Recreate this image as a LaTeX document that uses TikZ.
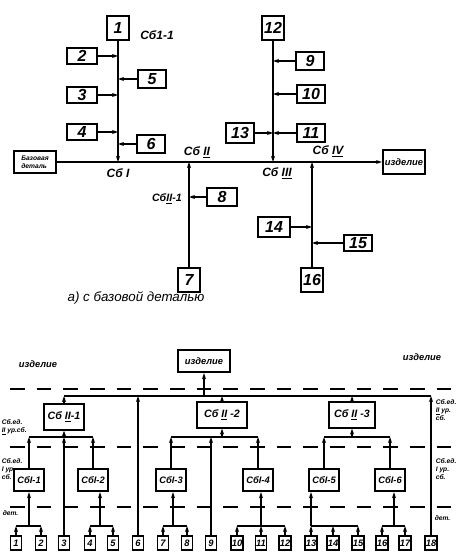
\documentclass[tikz,border=0pt]{standalone}
\usepackage{fontspec}
\setmainfont{Liberation Sans}
\usetikzlibrary{arrows.meta}

\tikzset{
  part/.style={draw, line width=1.3pt, minimum width=21pt, minimum height=13pt, inner sep=1pt, font=\large\bfseries\itshape},
  tallpart/.style={part, minimum width=16pt, minimum height=18pt},
  leaf/.style={draw, line width=1.1pt, minimum width=8.5pt, minimum height=10.5pt, inner sep=0.5pt, font=\scriptsize\bfseries\itshape},
  unit/.style={draw, line width=1.3pt, minimum width=22pt, minimum height=17pt, inner xsep=2.5pt, font=\scriptsize\bfseries\itshape},
  sbtag/.style={font=\small\bfseries\itshape},
  levtag/.style={font=\tiny\bfseries\itshape, align=left, anchor=west, inner sep=0pt},
  level/.style={line width=1.3pt, dash pattern=on 11pt off 9pt},
}

\begin{document}
\begin{tikzpicture}[x=0.75pt, y=-0.75pt, line width=1.2pt, >={Stealth[length=4.5pt,width=3pt]}]
  \useasboundingbox (0,0) rectangle (456,552);

  % a) with a base part

  % Assembly points on the main line
  \coordinate (s1) at (118,162);
  \coordinate (s2) at (189,162);
  \coordinate (s3) at (273,162);
  \coordinate (s4) at (312,162);

  % Main line
  \node[part, minimum width=32pt, minimum height=16pt, font=\tiny\bfseries\itshape, align=left] (base) at (35,162) {Базовая\\деталь};
  \node[part, minimum width=32pt, minimum height=18pt, font=\scriptsize\bfseries\itshape] (izd) at (404,162) {изделие};
  \draw[->] (base) -- (izd);

  % Sb I-1
  \node[tallpart] (t1) at (118,28) {1};
  \node[part, minimum width=23pt, minimum height=12pt] (t2) at (82,56) {2};
  \node[part, minimum width=23pt, minimum height=12pt] (t3) at (82,95) {3};
  \node[part, minimum width=23pt, minimum height=12pt] (t4) at (82,132) {4};
  \node[part] (t5) at (152,79) {5};
  \node[part] (t6) at (151,144) {6};
  \draw[->] (t1) -- (s1);
  \draw[->] (t2) -- (t2 -| s1);
  \draw[->] (t3) -- (t3 -| s1);
  \draw[->] (t4) -- (t4 -| s1);
  \draw[->] (t5) -- (t5 -| s1);
  \draw[->] (t6) -- (t6 -| s1);
  \node[sbtag] (l11) at (157,35) {Сб1-1};
  \node[sbtag] (l1) at (118,173) {Сб I};

  % Sb II-1
  \node[tallpart] (t7) at (189,280) {7};
  \node[part, minimum width=22pt, minimum height=14pt] (t8) at (222,197) {8};
  \draw[->] (t7) -- (s2);
  \draw[->] (t8) -- (t8 -| s2);
  \node[sbtag] (l2) at (197,152) {Сб \underline{II}};
  \node[sbtag, font=\footnotesize\bfseries\itshape, anchor=east] (l21) at (187,199) {Сб\underline{II}-1};

  % Sb III
  \node[tallpart] (t12) at (273,28) {12};
  \node[part] (t9) at (310,61) {9};
  \node[part] (t10) at (311,94) {10};
  \node[part, minimum height=14pt] (t11) at (311,133) {11};
  \node[part, minimum height=15pt] (t13) at (240,133) {13};
  \draw[->] (t12) -- (s3);
  \draw[->] (t9) -- (t9 -| s3);
  \draw[->] (t10) -- (t10 -| s3);
  \draw[->] (t11) -- (t11 -| s3);
  \draw[->] (t13) -- (t13 -| s3);
  \node[sbtag] (l3) at (277,173) {Сб \underline{III}};

  % Sb IV
  \node[tallpart] (t16) at (312,280) {16};
  \node[part, minimum width=24pt, minimum height=15pt] (t14) at (274,227) {14};
  \node[part, minimum height=12pt] (t15) at (358,243) {15};
  \draw[->] (t16) -- (s4);
  \draw[->] (t14) -- (t14 -| s4);
  \draw[->] (t15) -- (t15 -| s4);
  \node[sbtag] (l4) at (328,151) {Сб \underline{IV}};

  \node[font=\normalsize\itshape] (capa) at (136,298) {а) с базовой деталью};

  % b) levels of assembly

  % Level borders
  \draw[level] (10,389) -- (456,389);
  \draw[level] (10,447) -- (456,447);
  \draw[level] (10,507) -- (456,507);

  % Product
  \node[unit, minimum width=39pt] (izd2) at (204,361) {изделие};
  \coordinate (top) at (204,396);

  % Units of level II
  \node[unit, minimum width=29pt, minimum height=19pt, font=\footnotesize\bfseries\itshape] (w1) at (64,417) {Сб \underline{II}-1};
  \node[unit, minimum width=37pt, minimum height=19pt, font=\footnotesize\bfseries\itshape] (w2) at (222,415) {Сб \underline{II} -2};
  \node[unit, minimum width=35pt, minimum height=19pt, font=\footnotesize\bfseries\itshape] (w3) at (352,415) {Сб \underline{II} -3};

  % Units of level I
  \node[unit] (u1) at (29,480) {СбI-1};
  \node[unit] (u2) at (93,480) {СбI-2};
  \node[unit] (u3) at (171,480) {СбI-3};
  \node[unit] (u4) at (258,480) {СбI-4};
  \node[unit] (u5) at (324,480) {СбI-5};
  \node[unit] (u6) at (390,480) {СбI-6};

  % Parts
  \node[leaf] (p1) at (16,543) {1};
  \node[leaf] (p2) at (41,543) {2};
  \node[leaf] (p3) at (64,543) {3};
  \node[leaf] (p4) at (90,543) {4};
  \node[leaf] (p5) at (113,543) {5};
  \node[leaf] (p6) at (138,543) {6};
  \node[leaf] (p7) at (163,543) {7};
  \node[leaf] (p8) at (187,543) {8};
  \node[leaf] (p9) at (211,543) {9};
  \node[leaf] (p10) at (237,543) {10};
  \node[leaf] (p11) at (261,543) {11};
  \node[leaf] (p12) at (285,543) {12};
  \node[leaf] (p13) at (311,543) {13};
  \node[leaf] (p14) at (333,543) {14};
  \node[leaf] (p15) at (358,543) {15};
  \node[leaf] (p16) at (382,543) {16};
  \node[leaf] (p17) at (405,543) {17};
  \node[leaf] (p18) at (431,543) {18};

  % Junctions
  \coordinate (k1) at (64,437);
  \coordinate (k2) at (222,437);
  \coordinate (k3) at (352,437);
  \coordinate (j1) at (29,526);
  \coordinate (j2) at (100,526);
  \coordinate (j3) at (173,526);
  \coordinate (j4) at (261,526);
  \coordinate (j5) at (311,526);
  \coordinate (j6) at (394,526);

  % Product line
  \draw (w1 |- top) -- (p18 |- top);
  \draw[->] (top) -- (izd2);
  \draw[->] (w1) -- (w1 |- top);
  \draw[->] (p6) -- (p6 |- top);
  \draw[->] (w2) -- (w2 |- top);
  \draw[->] (w3) -- (w3 |- top);
  \draw[->] (p18) -- (p18 |- top);

  % Sb II-1
  \draw (u1 |- k1) -- (u2 |- k1);
  \draw[->] (u1) -- (u1 |- k1);
  \draw[->] (u2) -- (u2 |- k1);
  \draw[->] (p3) -- (p3 |- k1);
  \draw[->] (k1) -- (w1);

  % Sb II-2
  \draw (u3 |- k2) -- (u4 |- k2);
  \draw[->] (u3) -- (u3 |- k2);
  \draw[->] (p9) -- (p9 |- k2);
  \draw[->] (u4) -- (u4 |- k2);
  \draw[->] (k2) -- (w2);

  % Sb II-3
  \draw (u5 |- k3) -- (u6 |- k3);
  \draw[->] (u5) -- (u5 |- k3);
  \draw[->] (u6) -- (u6 |- k3);
  \draw[->] (k3) -- (w3);

  % Sb I-1
  \draw (p1 |- j1) -- (p2 |- j1);
  \draw[->] (p1) -- (p1 |- j1);
  \draw[->] (p2) -- (p2 |- j1);
  \draw[->] (j1) -- (j1 |- u1.south);

  % Sb I-2
  \draw (p4 |- j2) -- (p5 |- j2);
  \draw[->] (p4) -- (p4 |- j2);
  \draw[->] (p5) -- (p5 |- j2);
  \draw[->] (j2) -- (j2 |- u2.south);

  % Sb I-3
  \draw (p7 |- j3) -- (p8 |- j3);
  \draw[->] (p7) -- (p7 |- j3);
  \draw[->] (p8) -- (p8 |- j3);
  \draw[->] (j3) -- (j3 |- u3.south);

  % Sb I-4
  \draw (p10 |- j4) -- (p12 |- j4);
  \draw[->] (p10) -- (p10 |- j4);
  \draw[->] (p11) -- (p11 |- j4);
  \draw[->] (p12) -- (p12 |- j4);
  \draw[->] (j4) -- (j4 |- u4.south);

  % Sb I-5
  \draw (p13 |- j5) -- (p15 |- j5);
  \draw[->] (p13) -- (p13 |- j5);
  \draw[->] (p14) -- (p14 |- j5);
  \draw[->] (p15) -- (p15 |- j5);
  \draw[->] (j5) -- (j5 |- u5.south);

  % Sb I-6
  \draw (p16 |- j6) -- (p17 |- j6);
  \draw[->] (p16) -- (p16 |- j6);
  \draw[->] (p17) -- (p17 |- j6);
  \draw[->] (j6) -- (j6 |- u6.south);

  % Level names
  \node[font=\scriptsize\bfseries\itshape] (lz1) at (38,364) {изделие};
  \node[font=\scriptsize\bfseries\itshape] (lz2) at (422,357) {изделие};
  \node[levtag] (ll2) at (1,427) {Сб.ед.\\\underline{II} ур.сб.};
  \node[levtag] (ll1) at (1,469) {Сб.ед.\\I ур.\\сб.};
  \node[levtag] (ll0) at (2,513) {дет.};
  \node[levtag] (lr2) at (435,410) {Сб.ед.\\\underline{II} ур.\\сб.};
  \node[levtag] (lr1) at (435,469) {Сб.ед.\\I ур.\\сб.};
  \node[levtag] (lr0) at (434,518) {дет.};
\end{tikzpicture}
\end{document}
